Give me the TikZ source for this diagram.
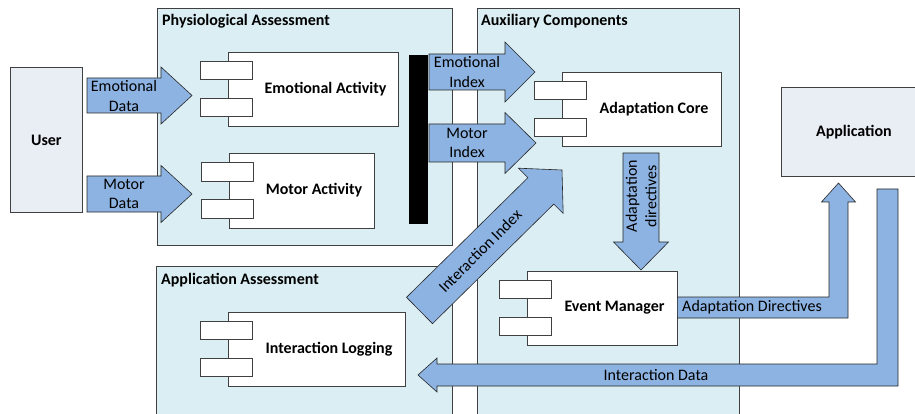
\documentclass[tikz,border=0pt]{standalone}
\usepackage{fontspec}
\setmainfont{Carlito}
\usetikzlibrary{calc}

\definecolor{boxblue}{HTML}{DAEEF3}
\definecolor{arrowblue}{HTML}{8DB3E2}
\definecolor{actorgrey}{HTML}{E9EDF4}
\definecolor{edgegrey}{HTML}{404040}

% block arrow: tail, tip, half shaft, half head, head length
\newcommand{\blockarrow}[5]{%
  \coordinate (ba-base) at ($(#2)!#5!(#1)$);
  \draw[flow] ($(#1)!#3!90:(#2)$) -- ($(ba-base)!#3!90:(#2)$)
    -- ($(ba-base)!#4!90:(#2)$) -- (#2) -- ($(ba-base)!#4!-90:(#2)$)
    -- ($(ba-base)!#3!-90:(#2)$) -- ($(#1)!#3!-90:(#2)$) -- cycle;}

% component: name, centre, width, height, text
\newcommand{\component}[5]{%
  \node[comp, minimum width=#3, minimum height=#4] (#1) at #2 {};
  \node[tab] (#1-tab1) at ([xshift=-1pt,yshift=18.5pt]#1.west) {};
  \node[tab] (#1-tab2) at ([xshift=-1pt,yshift=-18.5pt]#1.west) {};
  \node[complabel] (#1-label) at ($([xshift=25pt]#1.west)!0.5!(#1.east)$) {#5};}

\begin{document}
\begin{tikzpicture}[x=1pt,y=-1pt,
    container/.style={draw=edgegrey,fill=boxblue,line width=0.8pt,
      anchor=north west,inner sep=0pt},
    title/.style={font=\bfseries\fontsize{16}{19}\selectfont,anchor=west,inner sep=0pt},
    comp/.style={draw=edgegrey,fill=white,line width=0.8pt,inner sep=0pt},
    tab/.style={comp,minimum width=52pt,minimum height=18.5pt},
    complabel/.style={font=\bfseries\fontsize{16}{19}\selectfont,inner sep=0pt},
    actor/.style={draw=edgegrey,fill=actorgrey,line width=0.8pt,anchor=north west,
      font=\bfseries\fontsize{16}{19}\selectfont,inner sep=0pt},
    flow/.style={draw=black!85,fill=arrowblue,line width=0.6pt,line join=miter},
    flowtext/.style={font=\fontsize{16}{19.5}\selectfont,align=center,inner sep=0pt}]

  \useasboundingbox (0,0) rectangle (915,414);
  \clip (0,0) rectangle (915,414);

  % containers
  \node[container,minimum width=295pt,minimum height=237pt] (phys) at (157,8) {};
  \node[container,minimum width=262pt,minimum height=420pt] (aux) at (477,8) {};
  \node[container,minimum width=296pt,minimum height=160pt] (appass) at (156,266) {};
  \node[title] at (162,21) {Physiological Assessment};
  \node[title] at (481,21) {Auxiliary Components};
  \node[title] at (161,280) {Application Assessment};

  % outside actors
  \node[actor,minimum width=72pt,minimum height=145pt] (user) at (10,67) {};
  \node[complabel] at (user.center) {User};
  \node[actor,minimum width=145pt,minimum height=89pt] (app) at (781,87) {};
  \node[complabel] at (app.center) {Application};

  % components
  \component{emoact}{(313,89)}{170pt}{74pt}{Emotional Activity}
  \component{motact}{(301.5,190.5)}{145pt}{75pt}{Motor Activity}
  \component{core}{(641.5,109)}{159pt}{74pt}{Adaptation Core}
  \component{evman}{(602,308)}{150pt}{74pt}{Event Manager}
  \component{intlog}{(316.5,349)}{177pt}{74pt}{Interaction Logging}

  \node[fill=black,minimum width=19pt,minimum height=169pt,inner sep=0pt] (bar) at (418.5,139.5) {};

  % straight block arrows
  \coordinate (emodata-s) at (87,95.5);   \coordinate (emodata-e) at (192,95.5);
  \coordinate (motdata-s) at (87,194);    \coordinate (motdata-e) at (192,194);
  \coordinate (emoidx-s) at (429,72);     \coordinate (emoidx-e) at (535,72);
  \coordinate (motidx-s) at (429,143);    \coordinate (motidx-e) at (536,143);
  \coordinate (intidx-s) at (419.5,310.5); \coordinate (intidx-e) at (562,170);
  \coordinate (adapt-s) at (641,153);     \coordinate (adapt-e) at (641,270);

  \blockarrow{emodata-s}{emodata-e}{17.5pt}{28.5pt}{31pt}
  \blockarrow{motdata-s}{motdata-e}{18pt}{28.5pt}{31pt}
  \blockarrow{emoidx-s}{emoidx-e}{18pt}{30pt}{30pt}
  \blockarrow{motidx-s}{motidx-e}{19pt}{30.5pt}{31pt}
  \blockarrow{intidx-s}{intidx-e}{18.5pt}{31.8pt}{29.7pt}
  \blockarrow{adapt-s}{adapt-e}{18pt}{27.5pt}{28pt}

  % bent block arrows
  \draw[flow] (evman.east |- 0,297) -- (829,297) -- (829,202) -- (821.5,202) -- (838.5,183)
    -- (855.5,202) -- (848,202) -- (848,318) -- (evman.east |- 0,318) -- cycle;
  \draw[flow] (877,189) -- (898,189) -- (898,386) -- (437,386) -- (437,392) -- (418,375)
    -- (437,358) -- (437,364) -- (877,364) -- cycle;

  % arrow labels
  \node[flowtext] at (124,96) {Emotional\\Data};
  \node[flowtext] at (124,194) {Motor\\Data};
  \node[flowtext] at (467,72) {Emotional\\Index};
  \node[flowtext] at (467,143) {Motor\\Index};
  \node[flowtext,rotate=45] at (480,251) {Interaction Index};
  \node[flowtext,rotate=90] at (641,196) {Adaptation\\directives};
  \node[flowtext] at (752,307.5) {Adaptation Directives};
  \node[flowtext] at (656,375) {Interaction Data};
\end{tikzpicture}
\end{document}
